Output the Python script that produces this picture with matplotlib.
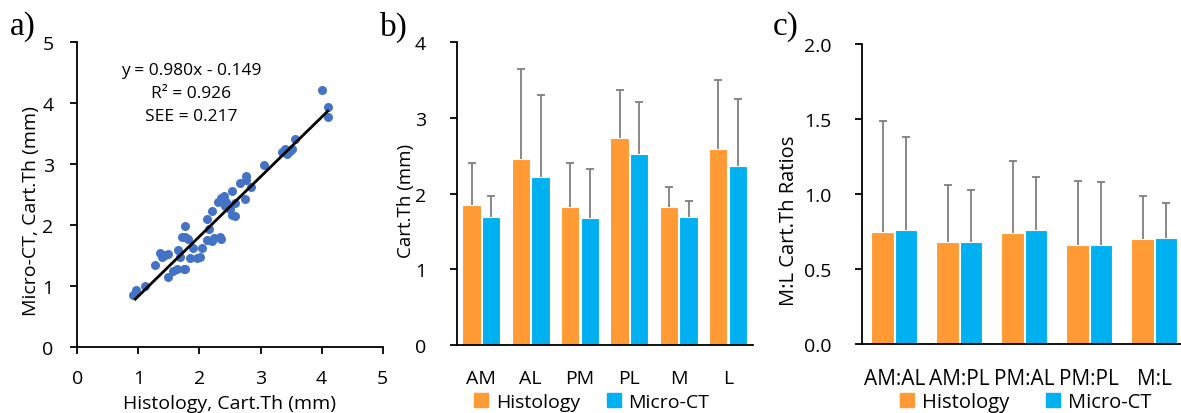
import matplotlib
matplotlib.use("Agg")
import matplotlib.pyplot as plt
from matplotlib.patches import Patch
import numpy as np

plt.rcParams['font.family'] = ['Open Sans', 'DejaVu Sans']

# ---------------- data ----------------
# panel a: scatter of Histology vs Micro-CT cartilage thickness (mm)
hist_x = [0.92, 0.96, 1.11, 1.27, 1.35, 1.38, 1.44, 1.49, 1.49, 1.57, 1.63, 1.65,
          1.68, 1.71, 1.74, 1.76, 1.77, 1.76, 1.82, 1.84, 1.89, 1.96, 2.01, 2.04,
          2.12, 2.15, 2.12, 2.20, 2.23, 2.20, 2.31, 2.34, 2.36, 2.35, 2.38, 2.40,
          2.44, 2.42, 2.50, 2.53, 2.58, 2.53, 2.58, 2.66, 2.75, 2.77, 2.77, 2.85,
          3.05, 3.35, 3.40, 3.43, 3.48, 3.51, 3.56, 4.00, 4.11, 4.11]
mct_y = [0.85, 0.93, 1.00, 1.35, 1.54, 1.47, 1.50, 1.53, 1.14, 1.25, 1.28, 1.59,
         1.47, 1.80, 1.28, 1.99, 1.28, 1.81, 1.77, 1.45, 1.62, 1.45, 1.47, 1.62,
         2.10, 1.93, 1.76, 1.73, 1.78, 2.23, 2.37, 1.80, 1.77, 2.45, 2.43, 2.48,
         2.37, 2.31, 2.26, 2.16, 2.14, 2.55, 2.36, 2.69, 2.43, 2.73, 2.81, 2.62,
         2.98, 3.19, 3.24, 3.17, 3.22, 3.25, 3.41, 4.22, 3.93, 3.77]
fit_slope = 0.980
fit_intercept = -0.149
fit_range = [0.95, 4.1]
fit_text = ["y = 0.980x - 0.149", "R\u00b2 = 0.926", "SEE = 0.217"]

# panel b: mean cartilage thickness with SD (upper end of error bar)
regions_b = ["AM", "AL", "PM", "PL", "M", "L"]
hist_b = [1.85, 2.46, 1.82, 2.74, 1.83, 2.59]
hist_b_top = [2.40, 3.65, 2.41, 3.37, 2.09, 3.50]
mct_b = [1.69, 2.22, 1.68, 2.53, 1.69, 2.37]
mct_b_top = [1.97, 3.30, 2.32, 3.21, 1.90, 3.25]

# panel c: M:L ratios
regions_c = ["AM:AL", "AM:PL", "PM:AL", "PM:PL", "M:L"]
hist_c = [0.75, 0.68, 0.74, 0.66, 0.70]
hist_c_top = [1.49, 1.06, 1.22, 1.09, 0.99]
mct_c = [0.76, 0.68, 0.76, 0.66, 0.71]
mct_c_top = [1.38, 1.03, 1.11, 1.08, 0.94]

series_names = ["Histology", "Micro-CT"]

# ---------------- style ----------------
ORANGE = "#FF9A35"
BLUE = "#00B0F0"
DOT = "#4472C4"
ERR = "#7F7F7F"
TICK_FS = 14
LAB_FS = 14

W, H = 1181, 414
fig = plt.figure(figsize=(W / 100, H / 100), dpi=100)


def ax_px(left, top, right, bottom):
    return fig.add_axes([left / W, 1 - bottom / H, (right - left) / W, (bottom - top) / H])


def style_axes(ax, ypad, xticks=True):
    for s in ["top", "right"]:
        ax.spines[s].set_visible(False)
    for s in ["left", "bottom"]:
        ax.spines[s].set_linewidth(1.3)
        ax.spines[s].set_color("black")
    ax.tick_params(axis="both", direction="out", length=5, width=1.3,
                   labelsize=TICK_FS)
    ax.tick_params(axis="y", pad=ypad)
    if xticks:
        ax.tick_params(axis="x", pad=11)
    else:
        ax.tick_params(axis="x", length=0, pad=17)


# ---------------- panel a ----------------
axa = ax_px(77.3, 43.3, 382.7, 347.7)
axa.scatter(hist_x, mct_y, s=42, color=DOT, zorder=2, linewidths=0)
fx = np.array(fit_range)
axa.plot(fx, fit_slope * fx + fit_intercept, color="black", lw=2, zorder=3)
axa.set_xlim(0, 5)
axa.set_ylim(0, 5)
axa.set_xticks(range(6))
axa.set_yticks(range(6))
style_axes(axa, ypad=12)
axa.set_xlabel("Histology, Cart.Th (mm)", fontsize=LAB_FS, labelpad=5)
axa.set_ylabel("Micro-CT, Cart.Th (mm)", fontsize=LAB_FS, labelpad=2)
axa.yaxis.label.set_y(0.45)
for i, t in enumerate(fit_text):
    axa.text(1.87, 4.55 - i * 0.38, t, fontsize=12.5, ha="center", va="center")


def bar_panel(ax, cats, h, htop, m, mtop, width, off):
    x = np.arange(len(cats))
    ax.bar(x - off, h, width, color=ORANGE, edgecolor="white", linewidth=0.8, zorder=2)
    ax.bar(x + off, m, width, color=BLUE, edgecolor="white", linewidth=0.8, zorder=2)
    for xs, v, top in [(x - off, h, htop), (x + off, m, mtop)]:
        v = np.array(v)
        top = np.array(top)
        eb = ax.errorbar(xs, v, yerr=[np.zeros_like(v), top - v], fmt="none",
                         ecolor=ERR, elinewidth=1.3, capsize=3, capthick=1.3, zorder=3)
        eb[1][0].set_visible(False)
    ax.set_xticks(x)
    ax.set_xticklabels(cats)
    ax.set_xlim(-0.5, len(cats) - 0.5)


# ---------------- panel b ----------------
axb = ax_px(456.7, 43.3, 752.7, 346)
bar_panel(axb, regions_b, hist_b, hist_b_top, mct_b, mct_b_top, 0.37, 0.2)
axb.set_ylim(0, 4)
axb.set_yticks(range(5))
style_axes(axb, ypad=17, xticks=False)
axb.set_ylabel("Cart.Th (mm)", fontsize=13.5, labelpad=0)
axb.yaxis.label.set_y(0.48)

# ---------------- panel c ----------------
axc = ax_px(861.7, 45, 861.7 + 325, 345)
bar_panel(axc, regions_c, hist_c, hist_c_top, mct_c, mct_c_top, 0.34, 0.18)
axc.set_ylim(0, 2.0)
axc.set_yticks([0, 0.5, 1.0, 1.5, 2.0])
axc.set_yticklabels(["0.0", "0.5", "1.0", "1.5", "2.0"])
style_axes(axc, ypad=17, xticks=False)
axc.tick_params(axis="x", labelsize=15)
axc.set_ylabel("M:L Cart.Th Ratios", fontsize=14.5, labelpad=3)
axc.yaxis.label.set_y(0.415)

# legends
handles = [Patch(color=ORANGE, label=series_names[0]), Patch(color=BLUE, label=series_names[1])]
for cx, fs, cs in [(592 / W, 14, 1.4), (1026 / W, 14.5, 1.8)]:
    fig.legend(handles=handles, loc="center", bbox_to_anchor=(cx, 1 - 403 / H),
               ncol=2, frameon=False, fontsize=fs, handlelength=0.7,
               handleheight=0.7, handletextpad=0.4, columnspacing=cs,
               borderpad=0, borderaxespad=0)

# panel letters
for letter, px in [("a)", 10), ("b)", 380), ("c)", 773)]:
    fig.text(px / W, 1 - 27 / H, letter, fontsize=24, family="Liberation Serif",
             ha="left", va="center")

fig.savefig("out.png", dpi=100)
